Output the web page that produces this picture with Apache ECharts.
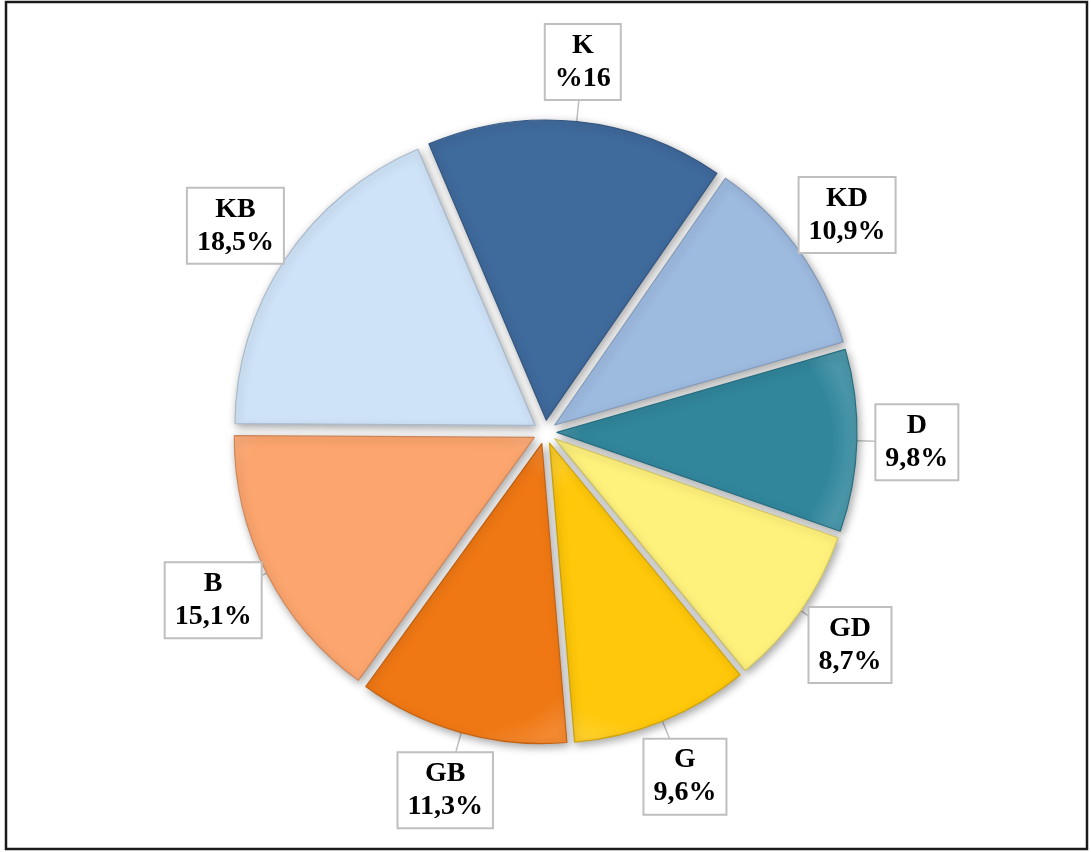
<!DOCTYPE html>
<html>
<head>
<meta charset="utf-8">
<script src="https://cdn.jsdelivr.net/npm/echarts@6/dist/echarts.min.js"></script>
<style>
  html, body { margin: 0; padding: 0; background: #fff; }
  #chart { width: 1091px; height: 852px; }
</style>
</head>
<body>
<div id="chart"></div>
<script>
const categories = ['K', 'KD', 'D', 'GD', 'G', 'GB', 'B', 'KB'];
const values = [16, 10.9, 9.8, 8.7, 9.6, 11.3, 15.1, 18.5];
const valueLabels = ['%16', '10,9%', '9,8%', '8,7%', '9,6%', '11,3%', '15,1%', '18,5%'];
const colors = ['#3F6A9C', '#9DBADF', '#31869C', '#FFF27C', '#FFC80A', '#F07814', '#FCA56E', '#CFE3F8'];

function shade(hex, f) {
  const n = parseInt(hex.slice(1), 16);
  let r = (n >> 16) & 255, g = (n >> 8) & 255, b = n & 255;
  if (f >= 0) { r += (255 - r) * f; g += (255 - g) * f; b += (255 - b) * f; }
  else { r *= (1 + f); g *= (1 + f); b *= (1 + f); }
  return 'rgb(' + Math.round(r) + ',' + Math.round(g) + ',' + Math.round(b) + ')';
}

const chart = echarts.init(document.getElementById('chart'), null, { renderer: 'canvas' });

const data = categories.map((name, i) => ({
  name: name,
  value: values[i],
  selected: true,
  label: { formatter: name + '\n' + valueLabels[i] },
  itemStyle: {
    color: {
      type: 'radial', x: 0.5, y: 0.5, r: 0.8,
      colorStops: [
        { offset: 0, color: colors[i] },
        { offset: 0.85, color: colors[i] },
        { offset: 1, color: shade(colors[i], 0.12) }
      ]
    },
    borderColor: shade(colors[i], -0.18),
    borderWidth: 1.2,
    shadowBlur: 8,
    shadowColor: 'rgba(0,0,0,0.35)',
    shadowOffsetX: 2,
    shadowOffsetY: 3
  }
}));

chart.setOption({
  animation: false,
  backgroundColor: '#ffffff',
  graphic: [{
    type: 'rect',
    shape: { x: 6, y: 2, width: 1081, height: 847 },
    style: { fill: 'none', stroke: '#1a1a1a', lineWidth: 2.5 },
    silent: true
  }],
  series: [{
    type: 'pie',
    center: [545, 432],
    radius: 300,
    startAngle: 113,
    clockwise: true,
    selectedMode: 'multiple',
    selectedOffset: 12,
    avoidLabelOverlap: false,
    data: data,
    label: {
      show: true,
      position: 'outside',
      color: '#000',
      fontFamily: 'Liberation Serif, Times New Roman, serif',
      fontWeight: 'bold',
      fontSize: 28,
      lineHeight: 33,
      backgroundColor: '#ffffff',
      borderColor: '#bfbfbf',
      borderWidth: 2,
      padding: [4, 9, 4, 9],
      distanceToLabelLine: 0
    },
    labelLine: {
      show: true,
      length: 60,
      length2: 0,
      smooth: false,
      lineStyle: { color: '#bfbfbf', width: 1.5 }
    },
    labelLayout: function () {
      return { align: 'center', verticalAlign: 'middle' };
    },
    emphasis: { disabled: true },
    select: { itemStyle: {} }
  }]
});
</script>
</body>
</html>
